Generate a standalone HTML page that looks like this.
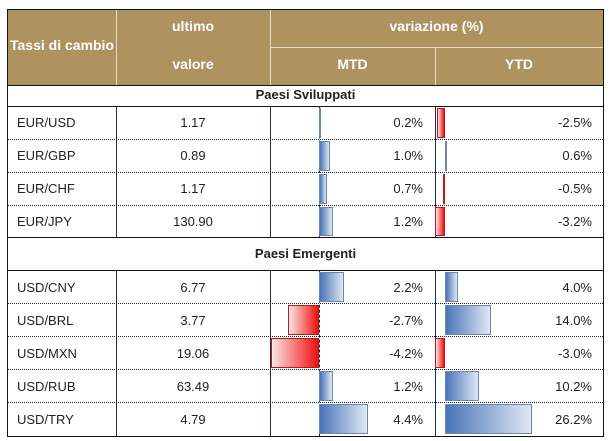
<!DOCTYPE html>
<html><head><meta charset="utf-8"><style>
body{margin:0;width:610px;height:441px;background:#fff;position:relative;overflow:hidden;font-family:"Liberation Sans",sans-serif;}
div{position:absolute;box-sizing:border-box;}
.h{color:#fff;font-size:14px;font-weight:bold;text-align:center;background:#AE9360;}
.t{font-size:13px;color:#222;}
.vl{width:1px;background:#1a3040;}
.dot{height:0;border-top:1px dotted #222;}
.sol{height:1px;background:#111;}
.b{background:linear-gradient(to right,#4a74b8,#dfe8f4);border:1px solid #6a86b0;}
.r{background:linear-gradient(to right,#fbe4e4,#ee1010);border:1px solid #b81818;}
.z{width:0;border-left:1px dashed #223;}
</style></head><body>
<div style="left:7px;top:9px;width:597px;height:428px;border:1.5px solid #111;"></div>
<div class="h" style="left:8px;top:10px;width:595px;height:75px;"></div>
<div style="left:116px;top:10px;width:1px;height:75px;background:#e8dcc4"></div>
<div style="left:270px;top:10px;width:1px;height:75px;background:#e8dcc4"></div>
<div style="left:270px;top:47px;width:333px;height:1px;background:#e8dcc4"></div>
<div style="left:435px;top:48px;width:1px;height:37px;background:#e8dcc4"></div>
<div class="h" style="left:8px;top:37px;width:108px;background:none">Tassi di cambio</div>
<div class="h" style="left:116px;top:18px;width:154px;background:none">ultimo</div>
<div class="h" style="left:116px;top:56px;width:154px;background:none">valore</div>
<div class="h" style="left:270px;top:18px;width:333px;background:none">variazione (%)</div>
<div class="h" style="left:270px;top:56px;width:165px;background:none">MTD</div>
<div class="h" style="left:435px;top:56px;width:168px;background:none">YTD</div>
<div class="sol" style="left:8px;top:85px;width:595px"></div>
<div class="t" style="left:8px;top:87px;width:595px;text-align:center;font-weight:bold">Paesi Sviluppati</div>
<div class="sol" style="left:8px;top:106px;width:595px"></div>
<div class="sol" style="left:8px;top:237px;width:595px"></div>
<div class="t" style="left:8px;top:246px;width:595px;text-align:center;font-weight:bold">Paesi Emergenti</div>
<div class="sol" style="left:8px;top:270px;width:595px"></div>
<div class="dot" style="left:8px;top:139px;width:595px"></div>
<div class="dot" style="left:8px;top:172px;width:595px"></div>
<div class="dot" style="left:8px;top:205px;width:595px"></div>
<div class="dot" style="left:8px;top:303px;width:595px"></div>
<div class="dot" style="left:8px;top:336px;width:595px"></div>
<div class="dot" style="left:8px;top:369px;width:595px"></div>
<div class="dot" style="left:8px;top:402px;width:595px"></div>
<div class="vl" style="left:116px;top:106px;height:131px"></div>
<div class="vl" style="left:270px;top:106px;height:131px"></div>
<div class="vl" style="left:435px;top:106px;height:131px"></div>
<div class="vl" style="left:116px;top:270px;height:167px"></div>
<div class="vl" style="left:270px;top:270px;height:167px"></div>
<div class="vl" style="left:435px;top:270px;height:167px"></div>
<div class="z" style="left:319px;top:106px;height:131px"></div>
<div class="z" style="left:319px;top:270px;height:167px"></div>
<div class="b" style="left:319px;top:108px;width:2px;height:30px"></div>
<div class="r" style="left:437px;top:108px;width:8px;height:30px"></div>
<div class="b" style="left:319px;top:141px;width:11px;height:30px"></div>
<div class="b" style="left:445px;top:141px;width:2px;height:30px"></div>
<div class="b" style="left:319px;top:174px;width:8px;height:30px"></div>
<div class="r" style="left:443px;top:174px;width:2px;height:30px"></div>
<div class="b" style="left:319px;top:207px;width:14px;height:29px"></div>
<div class="r" style="left:435px;top:207px;width:10px;height:29px"></div>
<div class="b" style="left:319px;top:272px;width:25px;height:30px"></div>
<div class="b" style="left:445px;top:272px;width:13px;height:30px"></div>
<div class="r" style="left:288px;top:305px;width:31px;height:30px"></div>
<div class="b" style="left:445px;top:305px;width:46px;height:30px"></div>
<div class="r" style="left:271px;top:338px;width:48px;height:30px"></div>
<div class="r" style="left:435px;top:338px;width:10px;height:30px"></div>
<div class="b" style="left:319px;top:371px;width:14px;height:30px"></div>
<div class="b" style="left:445px;top:371px;width:34px;height:30px"></div>
<div class="b" style="left:319px;top:404px;width:49px;height:30px"></div>
<div class="b" style="left:445px;top:404px;width:87px;height:30px"></div>
<div class="t" style="left:17px;top:115px">EUR/USD</div><div class="t" style="left:116px;top:115px;width:154px;text-align:center">1.17</div><div class="t" style="left:270px;top:115px;width:153px;text-align:right">0.2%</div><div class="t" style="left:435px;top:115px;width:157px;text-align:right">-2.5%</div>
<div class="t" style="left:17px;top:148px">EUR/GBP</div><div class="t" style="left:116px;top:148px;width:154px;text-align:center">0.89</div><div class="t" style="left:270px;top:148px;width:153px;text-align:right">1.0%</div><div class="t" style="left:435px;top:148px;width:157px;text-align:right">0.6%</div>
<div class="t" style="left:17px;top:181px">EUR/CHF</div><div class="t" style="left:116px;top:181px;width:154px;text-align:center">1.17</div><div class="t" style="left:270px;top:181px;width:153px;text-align:right">0.7%</div><div class="t" style="left:435px;top:181px;width:157px;text-align:right">-0.5%</div>
<div class="t" style="left:17px;top:214px">EUR/JPY</div><div class="t" style="left:116px;top:214px;width:154px;text-align:center">130.90</div><div class="t" style="left:270px;top:214px;width:153px;text-align:right">1.2%</div><div class="t" style="left:435px;top:214px;width:157px;text-align:right">-3.2%</div>
<div class="t" style="left:17px;top:280px">USD/CNY</div><div class="t" style="left:116px;top:280px;width:154px;text-align:center">6.77</div><div class="t" style="left:270px;top:280px;width:153px;text-align:right">2.2%</div><div class="t" style="left:435px;top:280px;width:157px;text-align:right">4.0%</div>
<div class="t" style="left:17px;top:313px">USD/BRL</div><div class="t" style="left:116px;top:313px;width:154px;text-align:center">3.77</div><div class="t" style="left:270px;top:313px;width:153px;text-align:right">-2.7%</div><div class="t" style="left:435px;top:313px;width:157px;text-align:right">14.0%</div>
<div class="t" style="left:17px;top:346px">USD/MXN</div><div class="t" style="left:116px;top:346px;width:154px;text-align:center">19.06</div><div class="t" style="left:270px;top:346px;width:153px;text-align:right">-4.2%</div><div class="t" style="left:435px;top:346px;width:157px;text-align:right">-3.0%</div>
<div class="t" style="left:17px;top:379px">USD/RUB</div><div class="t" style="left:116px;top:379px;width:154px;text-align:center">63.49</div><div class="t" style="left:270px;top:379px;width:153px;text-align:right">1.2%</div><div class="t" style="left:435px;top:379px;width:157px;text-align:right">10.2%</div>
<div class="t" style="left:17px;top:412px">USD/TRY</div><div class="t" style="left:116px;top:412px;width:154px;text-align:center">4.79</div><div class="t" style="left:270px;top:412px;width:153px;text-align:right">4.4%</div><div class="t" style="left:435px;top:412px;width:157px;text-align:right">26.2%</div>
</body></html>
